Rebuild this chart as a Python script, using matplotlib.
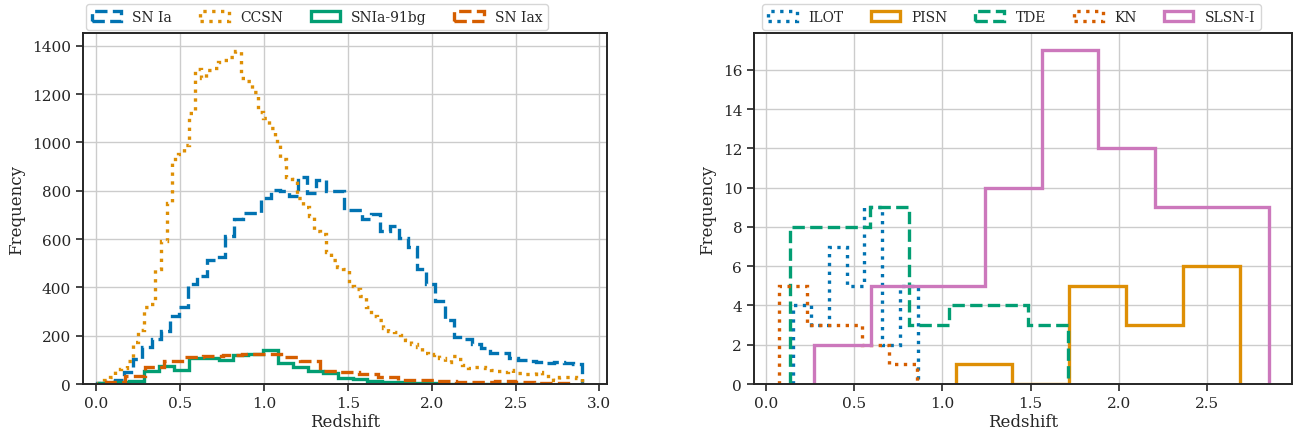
import numpy as np
import matplotlib
matplotlib.use("Agg")
import matplotlib.pyplot as plt
import matplotlib.patches as mpatches
import seaborn as sns

# ---------------- Left panel data (histogram counts per bin) ----------------
snia_range = (0.0017, 2.8955)
snia_counts = [3, 8, 18, 50, 103, 152, 186, 221, 283, 317, 414, 448, 512, 524,
               614, 685, 710, 710, 770, 804, 800, 780, 855, 790, 845, 800, 797,
               719, 719, 684, 702, 633, 654, 606, 568, 478, 412, 343, 267, 195,
               185, 165, 148, 130, 127, 107, 100, 95, 93, 85, 93, 85, 84]

ccsn_range = (0.012, 2.8935)
ccsn_counts = [5, 15, 30, 62, 65, 95, 172, 223, 317, 331, 476, 592, 749, 931,
               952, 991, 1121, 1303, 1265, 1300, 1310, 1335, 1340, 1355, 1379,
               1265, 1255, 1207, 1125, 1103, 1058, 1005, 931, 855, 848, 772,
               731, 696, 634, 620, 545, 512, 483, 478, 405, 394, 364, 319, 280,
               266, 232, 221, 214, 204, 184, 167, 153, 128, 122, 124, 108, 91,
               115, 103, 80, 66, 70, 70, 66, 59, 52, 48, 57, 46, 46, 43, 43,
               48, 32, 32, 18, 27, 29, 27, 25]

bg91_range = (0.018, 2.682)
bg91_counts = [4, 7, 11, 55, 73, 59, 108, 108, 101, 122, 126, 139, 87, 70, 52,
               45, 25, 20, 11, 8, 8, 4, 3, 2, 2, 1, 1, 1, 0, 1]

iax_range = (0.056, 2.842)
iax_counts = [10, 32, 72, 94, 110, 114, 120, 126, 125, 110, 94, 52, 48, 42, 28,
              18, 18, 11, 8, 7, 13, 10, 5, 6]

left_labels = ["SN Ia", "CCSN", "SNIa-91bg", "SN Iax"]

# ---------------- Right panel data ----------------
ilot_range = (0.155, 0.859)
ilot_counts = [4, 3, 7, 5, 9, 2, 5]
pisn_range = (1.075, 2.684)
pisn_counts = [1, 0, 5, 3, 6]
tde_range = (0.138, 1.710)
tde_counts = [8, 8, 9, 3, 4, 4, 3]
kn_range = (0.075, 0.854)
kn_counts = [5, 3, 3, 2, 1]
slsn_range = (0.274, 2.85)
slsn_counts = [2, 5, 5, 10, 17, 12, 9, 9]

right_labels = ["ILOT", "PISN", "TDE", "KN", "SLSN-I"]

# ---------------- Style ----------------
sns.set_theme(style="ticks")
plt.rcParams['font.family'] = ['DejaVu Serif']
pal = sns.color_palette("colorblind")
c_blue, c_orange, c_green, c_red, c_pink = pal[0], pal[1], pal[2], pal[3], pal[4]

fig = plt.figure(figsize=(12.95, 4.35), dpi=100)
ax1 = fig.add_axes([0.0641, 0.1149, 0.4046, 0.8069])
ax2 = fig.add_axes([0.5822, 0.1149, 0.4154, 0.8069])

LW = 2.4


def draw(ax, rng, counts, color, ls, label):
    counts = np.asarray(counts, dtype=float)
    edges = np.linspace(rng[0], rng[1], len(counts) + 1)
    ax.stairs(counts, edges, baseline=0, fill=False, color=color,
              linestyle=ls, linewidth=LW, label=label)
    return mpatches.Patch(facecolor="none", edgecolor=color, linestyle=ls,
                          linewidth=LW, label=label)


h1 = [
    draw(ax1, snia_range, snia_counts, c_blue, "--", left_labels[0]),
    draw(ax1, ccsn_range, ccsn_counts, c_orange, ":", left_labels[1]),
    draw(ax1, bg91_range, bg91_counts, c_green, "-", left_labels[2]),
    draw(ax1, iax_range, iax_counts, c_red, "--", left_labels[3]),
]

h2 = [
    draw(ax2, ilot_range, ilot_counts, c_blue, ":", right_labels[0]),
    draw(ax2, pisn_range, pisn_counts, c_orange, "-", right_labels[1]),
    draw(ax2, tde_range, tde_counts, c_green, "--", right_labels[2]),
    draw(ax2, kn_range, kn_counts, c_red, ":", right_labels[3]),
    draw(ax2, slsn_range, slsn_counts, c_pink, "-", right_labels[4]),
]

ax1.set_xlim(-0.08, 3.045)
ax1.set_ylim(0, 1453)
ax1.set_xticks([0.0, 0.5, 1.0, 1.5, 2.0, 2.5, 3.0])
ax1.set_yticks(range(0, 1401, 200))

ax2.set_xlim(-0.068, 2.98)
ax2.set_ylim(0, 17.87)
ax2.set_xticks([0.0, 0.5, 1.0, 1.5, 2.0, 2.5])
ax2.set_yticks(range(0, 17, 2))

for ax, handles, ncol, anchor_x in ((ax1, h1, 4, 0.0), (ax2, h2, 5, 0.009)):
    ax.grid(True, color="0.8", linewidth=1.0)
    ax.set_axisbelow(True)
    for s in ax.spines.values():
        s.set_visible(True)
        s.set_color("0.15")
        s.set_linewidth(1.4)
    ax.tick_params(labelsize=11, length=5, width=1.2, colors="0.15")
    ax.set_xlabel("Redshift", fontsize=12, labelpad=2)
    ax.set_ylabel("Frequency", fontsize=12, labelpad=5)
    ax.legend(handles=handles, loc="lower left",
              bbox_to_anchor=(anchor_x, 1.0),
              ncol=ncol, fontsize=10, borderaxespad=0.25, frameon=True,
              handlelength=2.1, columnspacing=2.0)

fig.savefig("out.png", dpi=100)
